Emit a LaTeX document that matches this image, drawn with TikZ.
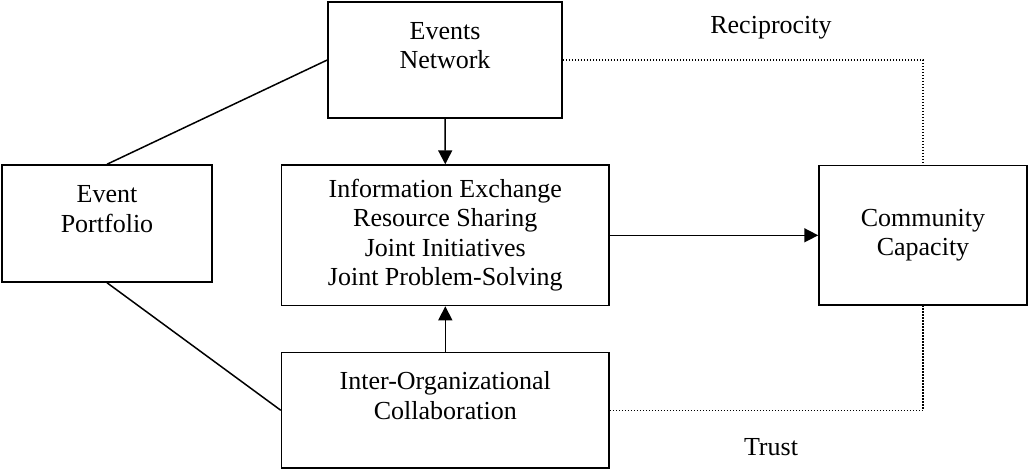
\documentclass[tikz,border=0pt]{standalone}
\usepackage{fontspec}
\setmainfont{Liberation Serif}
\usetikzlibrary{arrows.meta}

\begin{document}
\begin{tikzpicture}[x=1pt, y=-1pt,
		box/.style={draw, line width=1.5pt, align=center, inner sep=0pt, font=\fontsize{26}{29.5}\selectfont},
		lbl/.style={font=\fontsize{26}{29.5}\selectfont},
		arr/.style={line width=1.5pt, -{Triangle[length=14pt, width=14pt]}},
		link/.style={line width=1.5pt},
		dots/.style={line width=1.2pt, dash pattern=on 1.2pt off 1.8pt}]
			\useasboundingbox (0,0) rectangle (1029,469);
			\node[box, minimum width=234pt, minimum height=116pt] (net) at (445,60) {Events\\Network\\~};
			\node[box, minimum width=210pt, minimum height=117pt] (port) at (107,223.5) {Event\\Portfolio\\~};
			\node[box, minimum width=327.5pt, minimum height=140.5pt] (act) at (445.3,235.3) {Information Exchange\\Resource Sharing\\Joint Initiatives\\Joint Problem-Solving};
			\node[box, minimum width=208pt, minimum height=139.5pt] (cap) at (923,235.3) {Community\\Capacity};
			\node[box, minimum width=327.5pt, minimum height=115.5pt] (collab) at (445.3,410.3) {Inter-Organizational\\Collaboration\\~};
			\node[lbl] (recip) at (771,28) {Reciprocity};
			\node[lbl] (trust) at (771,447) {Trust};
			\draw[link] (net.west)--(port.north);
			\draw[link] (port.south)--(collab.west);
			\draw[arr] (net.south)--(act.north);
			\draw[arr] (collab.north)--(act.south);
			\draw[arr] (act.east)--(cap.west);
			\draw[dots] (net.east) -| (cap.north);
			\draw[dots] (collab.east) -| (cap.south);
		\end{tikzpicture}
\end{document}
